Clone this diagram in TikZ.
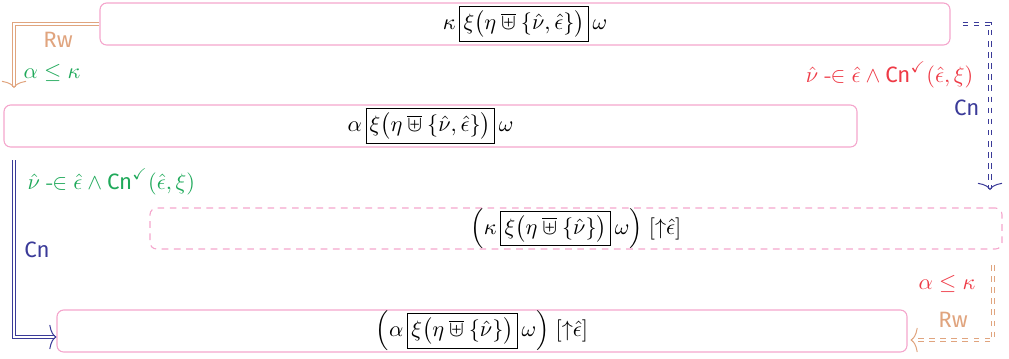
\documentclass[tikz,border=0pt]{standalone}
\usepackage{amsmath,amssymb}
\usepackage{fontspec}
\setsansfont{Fira Sans}
\usetikzlibrary{arrows.meta,calc}
\definecolor{boxpink}{HTML}{F4A6CC}
\definecolor{tanc}{HTML}{E0A47E}
\definecolor{grn}{HTML}{1FA95A}
\definecolor{rd}{HTML}{EE3A46}
\definecolor{nav}{HTML}{3A3A98}
\newcommand{\Cn}{\textsf{Cn}}
\newcommand{\ib}[1]{{\setlength{\fboxsep}{1.5pt}\fbox{$#1$}}}
\newcommand{\elin}{\mathrel{\text{-}\mkern-1mu\mathord{\in}}}
\newcommand{\ubar}{\mathbin{\overline{\uplus}}}
\begin{document}
\begin{tikzpicture}[x=0.45pt,y=-0.45pt,
  box/.style={draw=boxpink, rounded corners=3pt, line width=0.5pt, inner sep=0pt, minimum height=18.9pt},
  dbox/.style={box, dashed, dash pattern=on 3pt off 2.5pt},
  arr/.style={double, double distance=1.2pt, line width=0.45pt, -{To[length=3.2pt,width=11pt]}},
  rwarr/.style={arr, draw=tanc},
  cnarr/.style={arr, draw=nav},
  dsh/.style={dash pattern=on 2.5pt off 2.5pt},
  lbl/.style={inner sep=1pt}]
\useasboundingbox (0,0) rectangle (1009,358);
\node[box, minimum width=382.5pt] (b1) at (525,24)
  {$\kappa\,\ib{\xi\bigl(\eta\ubar\{\hat{\nu},\hat{\epsilon}\}\bigr)}\,\omega$};
\node[box, minimum width=383.85pt] (b2) at (430.5,126)
  {$\alpha\,\ib{\xi\bigl(\eta\ubar\{\hat{\nu},\hat{\epsilon}\}\bigr)}\,\omega$};
\node[dbox, minimum width=383.4pt, minimum height=18.45pt] (b3) at (576,228.5)
  {$\Bigl(\kappa\,\ib{\xi\bigl(\eta\ubar\{\hat{\nu}\}\bigr)}\,\omega\Bigr)\;[{\uparrow}\hat{\epsilon}]$};
\node[box, minimum width=382.5pt] (b4) at (482,331)
  {$\Bigl(\alpha\,\ib{\xi\bigl(\eta\ubar\{\hat{\nu}\}\bigr)}\,\omega\Bigr)\;[{\uparrow}\hat{\epsilon}]$};
% arrow 1
\coordinate (e1) at (14,88);
\draw[rwarr] (b1.west) -| (e1);
\node[lbl, text=tanc] (l1a) at (58,40) {\textsf{Rw}};
\node[lbl, text=grn] (l1b) at (52,73) {$\alpha\le\kappa$};
% arrow 2
\coordinate (e2) at (990,190);
\draw[cnarr, dsh, shorten <=5.4pt] (b1.east) -| (e2);
\node[lbl, text=rd, anchor=east] (l2a) at (976,75) {$\hat{\nu}\elin\hat{\epsilon}\wedge\text{\Cn}^{\checkmark}(\hat{\epsilon},\xi)$};
\node[lbl, text=nav, anchor=east] (l2b) at (982,108) {\Cn};
% arrow 3
\coordinate (s3) at (14,160);
\draw[cnarr] (s3) |- ($(b4.west)+(0,6)$);
\node[lbl, text=grn, anchor=west] (l3a) at (25,182) {$\hat{\nu}\elin\hat{\epsilon}\wedge\text{\Cn}^{\checkmark}(\hat{\epsilon},\xi)$};
\node[lbl, text=nav] (l3b) at (37,250) {\Cn};
% arrow 4
\coordinate (s4) at (993,265);
\draw[rwarr, dsh] (s4) |- ($(b4.east)+(3,9)$);
\node[lbl, text=rd, anchor=east] (l4a) at (978,284) {$\alpha\le\kappa$};
\node[lbl, text=tanc] (l4b) at (953,320) {\textsf{Rw}};
\end{tikzpicture}
\end{document}
